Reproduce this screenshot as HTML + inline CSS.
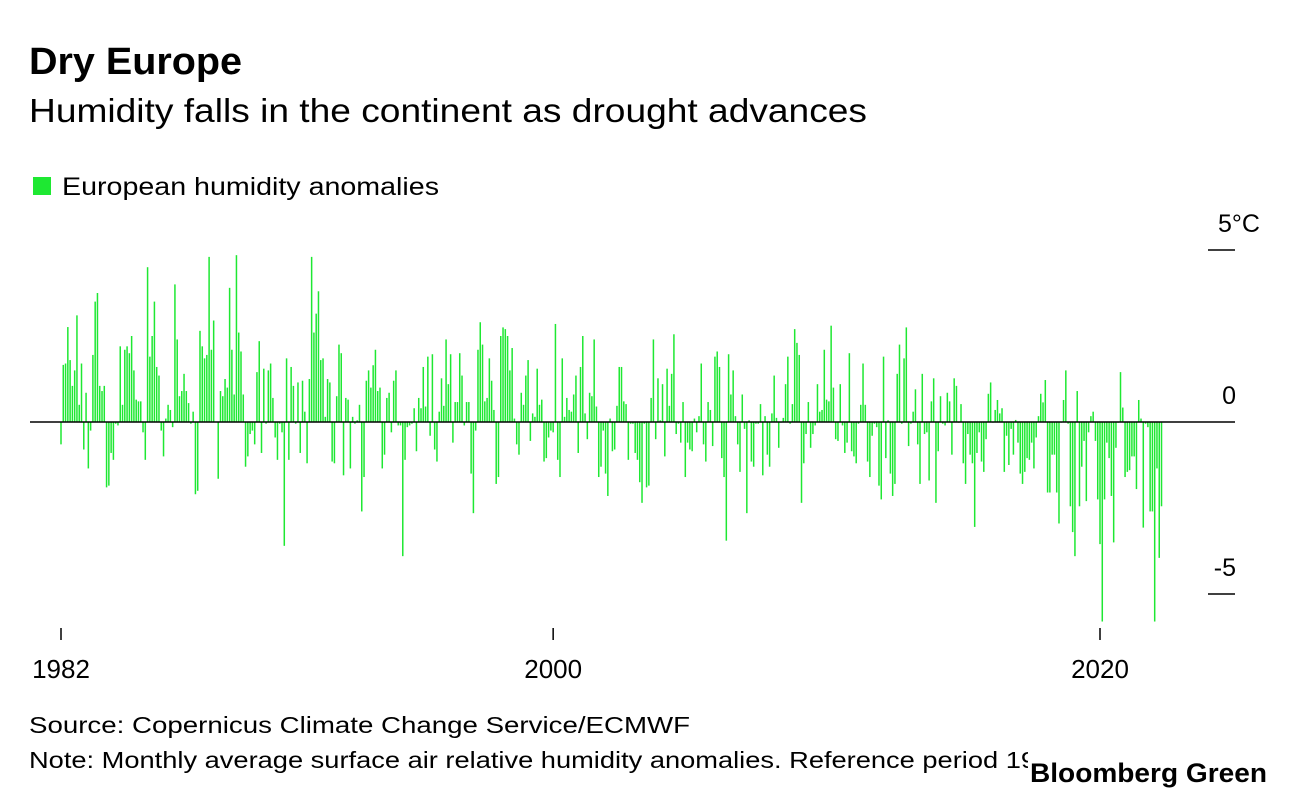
<!DOCTYPE html>
<html><head><meta charset="utf-8"><style>
body{margin:0;width:1296px;height:800px;background:#fff;overflow:hidden;font-family:"Liberation Sans",sans-serif;color:#000}
svg{position:absolute;left:0;top:0}
</style></head><body>
<svg width="1296" height="800">
<text x="29" y="74" font-size="38" font-weight="bold" textLength="213" lengthAdjust="spacingAndGlyphs">Dry Europe</text>
<text x="29" y="122" font-size="33" textLength="838" lengthAdjust="spacingAndGlyphs">Humidity falls in the continent as drought advances</text>
<rect x="33" y="177" width="18" height="18" fill="#1ee832"/>
<text x="62" y="195" font-size="25" textLength="377" lengthAdjust="spacingAndGlyphs">European humidity anomalies</text>
<g id="bars"></g>
<g id="axes"></g>
<text x="29" y="733" font-size="23" textLength="661" lengthAdjust="spacingAndGlyphs">Source: Copernicus Climate Change Service/ECMWF</text>
<svg x="0" y="740" width="1028" height="40"><text x="29" y="28" font-size="23" textLength="1107" lengthAdjust="spacingAndGlyphs">Note: Monthly average surface air relative humidity anomalies. Reference period 1991-2020</text></svg>
<text x="1030" y="782" font-size="27" font-weight="bold" textLength="237" lengthAdjust="spacingAndGlyphs">Bloomberg Green</text>
</svg>
<script>
const startYear = 1982;
const yTicks = [5, 0, -5];
const yTickLabels = ["5°C", "0", "-5"];
const xTicks = [1982, 2000, 2020];
const anomalies = [
-0.65,1.66,1.7,2.76,1.8,1.05,1.5,3.1,0.5,1.7,-0.8,0.85,-1.35,-0.25,1.95,3.5,3.75,1.05,0.9,1.05,-1.9,-1.85,-0.9,-1.1,-0.05,-0.1,2.2,0.5,2.1,2.2,2.0,2.5,1.5,0.65,0.6,0.6,-0.3,-1.1,4.5,1.9,2.5,3.5,1.6,1.35,-0.25,-1.0,0.1,0.5,0.35,-0.15,4.0,2.4,0.75,0.9,1.4,0.9,0.55,-0.05,0.3,-2.1,-2.0,2.65,2.2,1.85,1.95,4.8,2.1,2.95,-0.01,-1.65,0.9,0.75,1.25,1.0,3.9,2.1,0.8,4.85,2.6,2.05,0.8,
-1.3,-1.0,-0.35,-0.25,-0.65,1.45,2.35,-0.9,1.55,-0.05,1.5,1.7,0.7,-0.45,-1.1,-0.05,-0.3,-3.6,1.85,-1.1,1.6,1.05,-0.05,1.15,-0.9,1.2,0.3,-1.2,1.25,4.8,2.6,3.15,3.8,1.8,1.85,0.15,1.25,1.15,-1.15,-1.2,0.75,2.25,2.0,-1.55,0.7,0.65,-1.35,0.15,-0.05,0.05,0.5,-2.6,-1.6,1.2,1.5,1.0,1.65,2.1,0.9,1.0,-1.35,-0.95,0.7,0.85,-0.3,1.2,1.5,-0.1,-0.1,-3.9,-1.1,-0.15,-0.1,-0.05,0.4,-0.85,0.7,0.4,1.6,0.45,1.9,-0.4,
1.97,-0.8,-1.15,0.3,1.27,0.47,2.4,1.1,1.97,-0.6,0.58,0.58,2.0,1.35,-0.1,0.58,0.58,-1.5,-2.65,-0.25,2.1,2.9,2.25,0.6,0.7,1.85,1.2,0.35,-1.8,-1.6,2.5,2.75,2.7,2.5,1.5,2.15,0.1,-0.65,-0.95,0.85,0.5,1.35,1.8,-0.55,0.25,0.15,1.55,0.5,0.65,-1.15,-1.05,-0.45,-0.25,-0.3,2.85,-1.1,-1.6,1.85,0.15,0.7,0.35,0.3,0.8,1.35,-0.9,1.6,2.5,0.25,-0.5,0.85,0.75,2.4,0.45,-1.6,-1.3,-0.25,-1.5,-2.15,0.1,
-0.85,-0.8,0.47,1.6,1.6,0.6,0.52,-1.1,-0.05,-0.05,-0.9,-1.1,-1.75,-2.35,-0.05,-1.9,-1.85,0.7,2.4,-0.5,1.27,0.05,1.1,-1.0,1.55,0.47,1.4,2.55,-0.35,-0.05,-0.6,0.58,-1.6,-0.6,-0.8,-0.85,0.1,-0.3,0.17,1.7,-0.65,-1.15,0.58,0.35,-0.7,1.9,2.05,1.6,-1.05,-1.6,-3.45,1.97,0.8,1.5,0.17,-0.65,-1.45,0.8,-0.2,-2.65,0.05,-1.15,-1.3,-0.05,-0.05,0.52,-1.55,0.17,-0.95,-1.3,0.25,1.35,0.12,-0.75,-0.02,0.12,1.1,1.9,-0.05,0.52,2.7,
2.3,1.95,-2.35,-1.2,-0.35,0.58,-0.75,-0.35,-0.1,1.1,0.3,0.35,2.1,0.65,0.6,2.8,1.0,-0.5,-0.55,1.1,-0.1,-0.9,-0.6,2.0,-0.85,-1.0,-1.2,-0.05,0.5,1.7,0.5,-1.15,-1.6,-0.4,-0.05,-0.15,-1.85,-2.25,1.9,-1.05,0.05,-1.5,-2.15,-1.8,1.4,2.25,-0.05,1.85,2.75,-0.7,-0.05,0.3,0.95,-0.65,-1.8,1.4,-0.35,-0.3,-1.7,0.6,1.27,-2.35,-0.85,0.75,-0.05,-0.1,0.85,0.6,-0.95,1.27,1.05,-0.02,0.52,-1.2,-1.8,-0.35,-0.95,-1.2,-3.05,-0.9,-0.3,-1.15,
-1.45,-0.5,0.82,1.15,-0.02,0.35,0.64,0.25,0.4,-1.45,-0.4,-1.25,-0.2,-0.95,0.06,-0.6,-1.5,-1.8,-1.45,-1.05,-1.1,-0.6,-1.35,-0.45,0.17,0.82,0.57,1.22,-2.05,-2.05,-0.95,-0.95,-2.05,-2.95,-0.02,0.64,1.5,-0.05,-2.45,-3.2,-3.9,0.9,-2.45,-1.3,-0.55,-2.3,-0.3,0.17,0.3,-0.55,-2.25,-3.55,-5.8,-2.25,-0.6,-1.05,-2.15,-3.5,-0.75,-0.02,1.45,0.42,-1.6,-1.45,-1.4,-1.0,-1.0,-1.95,0.64,0.1,-3.07,-0.05,-0.15,-2.6,-2.6,-5.8,-1.35,-3.95,-2.45
];
const NS = "http://www.w3.org/2000/svg";
function xScale(year){ return 61 + (year - 1982) * (1100 - 61) / (2020 - 1982); }
function yScale(v){ return 422 - v * (422 - 250) / 5; }
const bars = document.getElementById('bars');
anomalies.forEach((v, i) => {
  const r = document.createElementNS(NS, 'rect');
  const x = xScale(startYear + i / 12);
  const y0 = yScale(0), y1 = yScale(v);
  r.setAttribute('x', x - 0.75);
  r.setAttribute('y', Math.min(y0, y1));
  r.setAttribute('width', 1.5);
  r.setAttribute('height', Math.max(0.5, Math.abs(y1 - y0)));
  r.setAttribute('fill', '#1ee832');
  
  
  bars.appendChild(r);
});
const axes = document.getElementById('axes');
const zl = document.createElementNS(NS, 'line');
zl.setAttribute('x1', 30); zl.setAttribute('x2', 1235);
zl.setAttribute('y1', yScale(0)); zl.setAttribute('y2', yScale(0));
zl.setAttribute('stroke', '#000'); zl.setAttribute('stroke-width', 1.5);


axes.appendChild(zl);
yTicks.forEach((t, i) => {
  const y = yScale(t);
  if (t !== 0) {
    const l = document.createElementNS(NS, 'line');
    l.setAttribute('x1', 1208); l.setAttribute('x2', 1235);
    l.setAttribute('y1', y); l.setAttribute('y2', y);
    l.setAttribute('stroke', '#000'); l.setAttribute('stroke-width', 1.5);
    
    
    axes.appendChild(l);
  }
  const tx = document.createElementNS(NS, 'text');
  if (i === 0) { tx.setAttribute('x', 1218); tx.setAttribute('text-anchor', 'start'); }
  else { tx.setAttribute('x', 1236); tx.setAttribute('text-anchor', 'end'); }
  tx.setAttribute('y', y - 18);
  tx.setAttribute('font-size', 25);
  tx.textContent = yTickLabels[i];
  
  
  axes.appendChild(tx);
});
xTicks.forEach(t => {
  const x = xScale(t);
  const l = document.createElementNS(NS, 'line');
  l.setAttribute('x1', x); l.setAttribute('x2', x);
  l.setAttribute('y1', 628); l.setAttribute('y2', 640);
  l.setAttribute('stroke', '#000'); l.setAttribute('stroke-width', 1.5);
  
  
  axes.appendChild(l);
  const tx = document.createElementNS(NS, 'text');
  tx.setAttribute('x', x); tx.setAttribute('y', 678);
  tx.setAttribute('text-anchor', 'middle'); tx.setAttribute('font-size', 26);
  tx.textContent = String(t);
  
  
  axes.appendChild(tx);
});
</script>
</body></html>
